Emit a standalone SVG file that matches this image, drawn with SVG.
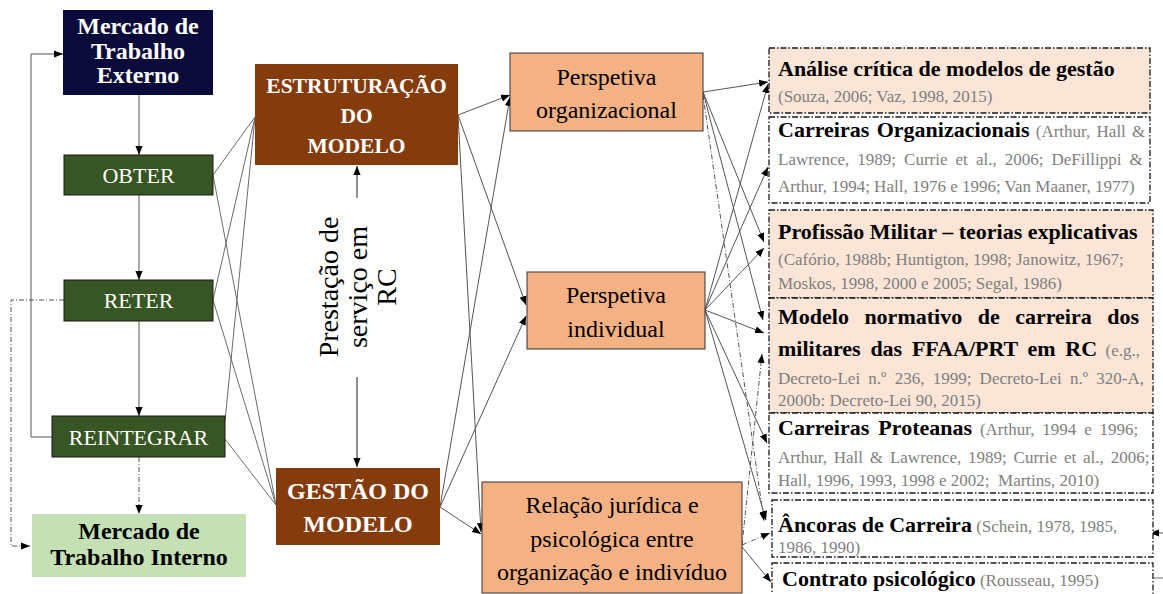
<svg xmlns="http://www.w3.org/2000/svg" width="1163" height="594" viewBox="0 0 1163 594">
<style>
text{font-family:"Liberation Serif","Times New Roman",serif}
.w{fill:#fff}
.b{font-weight:bold}
.c{text-anchor:middle}
.hb{font-weight:bold;font-size:22px;fill:#000}
.ci{font-size:17px;fill:#7f7f7f;font-weight:normal}
.ln{stroke:#6a6a6a;stroke-width:1;fill:none}
.ar{stroke:#555;stroke-width:1;fill:none;marker-end:url(#arr)}
.dd{stroke:#555;stroke-width:1;fill:none;stroke-dasharray:5 2 1 2}
.bx{stroke:#1a1a1a;stroke-width:1.3;stroke-dasharray:6 2 1.5 2}
.g{fill:#375623;stroke:#1a1a1a;stroke-width:1}
.o{fill:#F4B183;stroke:#333;stroke-width:1}
.br{fill:#843C0C}
</style>
<defs>
<marker id="arr" viewBox="0 0 10 10" refX="10" refY="5" markerWidth="9" markerHeight="9" orient="auto" markerUnits="userSpaceOnUse"><path d="M0,1 L10,5 L0,9 z" fill="#000"/></marker>
</defs>
<rect width="1163" height="594" fill="#fff"/>

<g id="connectors">
  <!-- left column -->
  <line class="ar" x1="139" y1="95" x2="139" y2="155"/>
  <line class="ar" x1="139" y1="195" x2="139" y2="280"/>
  <line class="ar" x1="139" y1="321" x2="139" y2="416"/>
  <polyline class="ar" points="52,437 31,437 31,54 63,54"/>
  <polyline class="dd" points="64,300 11,300 11,546 30,546" marker-end="url(#arr)"/>
  <line class="dd" x1="139" y1="457" x2="139" y2="514" marker-end="url(#arr)"/>
  <!-- green to brown -->
  <line class="ln" x1="213" y1="175" x2="255" y2="117"/>
  <line class="ln" x1="213" y1="300" x2="255" y2="117"/>
  <line class="ln" x1="225" y1="421" x2="255" y2="117"/>
  <line class="ln" x1="213" y1="175" x2="276" y2="505"/>
  <line class="ln" x1="213" y1="300" x2="276" y2="505"/>
  <line class="ln" x1="225" y1="439" x2="276" y2="505"/>
  <!-- prestação arrows -->
  <line x1="357" y1="198" x2="357" y2="166" stroke="#222" stroke-width="1" marker-end="url(#arr)"/>
  <line x1="357" y1="377" x2="357" y2="467" stroke="#222" stroke-width="1" marker-end="url(#arr)"/>
  <!-- brown to orange -->
  <line class="ar" x1="458" y1="115" x2="510" y2="95"/>
  <line class="ar" x1="458" y1="115" x2="526" y2="305"/>
  <line class="ar" x1="458" y1="115" x2="481" y2="532"/>
  <line class="ar" x1="440" y1="507" x2="510" y2="97"/>
  <line class="ar" x1="440" y1="507" x2="526" y2="316"/>
  <line class="ar" x1="440" y1="507" x2="481" y2="534"/>
  <!-- perspetiva organizacional -->
  <line class="ar" x1="703" y1="92" x2="768" y2="82"/>
  <line class="ar" x1="703" y1="92" x2="764" y2="242"/>
  <line class="ar" x1="703" y1="92" x2="763" y2="320"/>
  <line class="dd" x1="703" y1="95" x2="764" y2="521" marker-end="url(#arr)"/>
  <!-- perspetiva individual -->
  <line class="ar" x1="705" y1="310" x2="768" y2="84"/>
  <line class="ar" x1="705" y1="310" x2="768" y2="167"/>
  <line class="ar" x1="705" y1="310" x2="764" y2="248"/>
  <line class="ar" x1="705" y1="310" x2="764" y2="333"/>
  <line class="ar" x1="705" y1="310" x2="767" y2="443"/>
  <line class="ar" x1="705" y1="310" x2="766" y2="520"/>
  <!-- relação -->
  <line class="dd" x1="742" y1="545" x2="762" y2="354" marker-end="url(#arr)"/>
  <line class="dd" x1="742" y1="545" x2="770" y2="533" marker-end="url(#arr)"/>
  <line class="ar" x1="742" y1="547" x2="771" y2="582"/>
  <!-- right edge -->
  <line class="ar" x1="1163" y1="533" x2="1150" y2="533"/>
  <line class="ln" x1="1146" y1="578" x2="1163" y2="578"/>
</g>

<g id="mercado-externo">
  <rect x="63" y="10" width="150" height="85" fill="#0B0B3B"/>
  <text class="w b c" font-size="24" x="138" y="34">Mercado de</text>
  <text class="w b c" font-size="24" x="138" y="59">Trabalho</text>
  <text class="w b c" font-size="24" x="138" y="83">Externo</text>
</g>
<g id="obter">
  <rect class="g" x="64" y="155" width="149" height="40"/>
  <text class="w c" font-size="22" x="138.5" y="183">OBTER</text>
</g>
<g id="reter">
  <rect class="g" x="64" y="280" width="149" height="41"/>
  <text class="w c" font-size="22" x="138.5" y="308">RETER</text>
</g>
<g id="reintegrar">
  <rect class="g" x="52" y="416" width="173" height="41"/>
  <text class="w c" font-size="22" x="138.5" y="445">REINTEGRAR</text>
</g>
<g id="mercado-interno">
  <rect x="32" y="514" width="214" height="63" fill="#C5E0B4"/>
  <text class="b c" font-size="24" x="139" y="539">Mercado de</text>
  <text class="b c" font-size="24" x="139" y="565">Trabalho Interno</text>
</g>

<g id="estruturacao">
  <rect class="br" x="255" y="64" width="203" height="101"/>
  <text class="w b c" font-size="21.5" x="356.5" y="93">ESTRUTURAÇÃO</text>
  <text class="w b c" font-size="21.5" x="356.5" y="123">DO</text>
  <text class="w b c" font-size="21.5" x="356.5" y="153">MODELO</text>
</g>
<g id="gestao">
  <rect class="br" x="276" y="468" width="164" height="77"/>
  <text class="w b c" font-size="24" x="358" y="499">GESTÃO DO</text>
  <text class="w b c" font-size="24" x="358" y="532">MODELO</text>
</g>
<g id="prestacao">
  <text class="c" font-size="28" transform="translate(338,287) rotate(-90)">Prestação de</text>
  <text class="c" font-size="28" transform="translate(367,287) rotate(-90)">serviço em</text>
  <text class="c" font-size="28" transform="translate(396,287) rotate(-90)">RC</text>
</g>

<g id="perspetiva-organizacional">
  <rect class="o" x="510" y="53" width="193" height="78"/>
  <text class="c" font-size="24" x="606.5" y="85">Perspetiva</text>
  <text class="c" font-size="24" x="606.5" y="118">organizacional</text>
</g>
<g id="perspetiva-individual">
  <rect class="o" x="527" y="272" width="178" height="77"/>
  <text class="c" font-size="24" x="616" y="303">Perspetiva</text>
  <text class="c" font-size="24" x="616" y="337">individual</text>
</g>
<g id="relacao">
  <rect class="o" x="482" y="482" width="260" height="111"/>
  <text class="c" font-size="24" x="612" y="513">Relação jurídica e</text>
  <text class="c" font-size="24" x="612" y="547">psicológica entre</text>
  <text class="c" font-size="24" x="612" y="580">organização e indivíduo</text>
</g>

<g id="analise">
  <rect class="bx" x="769" y="48" width="381" height="65" fill="#FBE5D6"/>
  <text class="hb" x="778" y="76">Análise crítica de modelos de gestão</text>
  <text class="ci" x="778" y="102">(Souza, 2006; Vaz, 1998, 2015)</text>
</g>
<g id="carreiras-organizacionais">
  <rect class="bx" x="769" y="117" width="381" height="86" fill="#fff"/>
  <text class="hb" x="778" y="137" word-spacing="2">Carreiras Organizacionais<tspan class="ci"> (Arthur, Hall &amp;</tspan></text>
  <text class="ci" x="778" y="165" word-spacing="3.8">Lawrence, 1989; Currie et al., 2006; DeFillippi &amp;</text>
  <text class="ci" x="778" y="192">Arthur, 1994; Hall, 1976 e 1996; Van Maaner, 1977)</text>
</g>
<g id="profissao-militar">
  <rect class="bx" x="769" y="210" width="384" height="88" fill="#FBE5D6"/>
  <text class="hb" x="778" y="239">Profissão Militar – teorias explicativas</text>
  <text class="ci" x="778" y="265">(Cafório, 1988b; Huntigton, 1998; Janowitz, 1967;</text>
  <text class="ci" x="778" y="289">Moskos, 1998, 2000 e 2005; Segal, 1986)</text>
</g>
<g id="modelo-normativo">
  <rect class="bx" x="769" y="298" width="384" height="115" fill="#FBE5D6"/>
  <text class="hb" x="778" y="324" word-spacing="10">Modelo normativo de carreira dos</text>
  <text class="hb" x="778" y="356" word-spacing="4.2">militares das FFAA/PRT em RC<tspan class="ci"> (e.g.,</tspan></text>
  <text class="ci" x="778" y="384" word-spacing="4">Decreto-Lei n.º 236, 1999; Decreto-Lei n.º 320-A,</text>
  <text class="ci" x="778" y="406">2000b: Decreto-Lei 90, 2015)</text>
</g>
<g id="carreiras-proteanas">
  <rect class="bx" x="769" y="413" width="384" height="80" fill="#fff"/>
  <text class="hb" x="778" y="435" word-spacing="3.6">Carreiras Proteanas<tspan class="ci"> (Arthur, 1994 e 1996;</tspan></text>
  <text class="ci" x="778" y="463" word-spacing="2.6">Arthur, Hall &amp; Lawrence, 1989; Currie et al., 2006;</text>
  <text class="ci" x="778" y="486" xml:space="preserve">Hall, 1996, 1993, 1998 e 2002;  Martins, 2010)</text>
</g>
<g id="ancoras">
  <rect class="bx" x="772" y="500" width="381" height="57" fill="#fff"/>
  <text class="hb" x="778" y="532">Âncoras de Carreira<tspan class="ci"> (Schein, 1978, 1985,</tspan></text>
  <text class="ci" x="778" y="553">1986, 1990)</text>
</g>
<g id="contrato">
  <rect class="bx" x="772" y="563" width="381" height="40" fill="#fff"/>
  <text class="hb" x="782" y="586">Contrato psicológico<tspan class="ci"> (Rousseau, 1995)</tspan></text>
</g>
</svg>
